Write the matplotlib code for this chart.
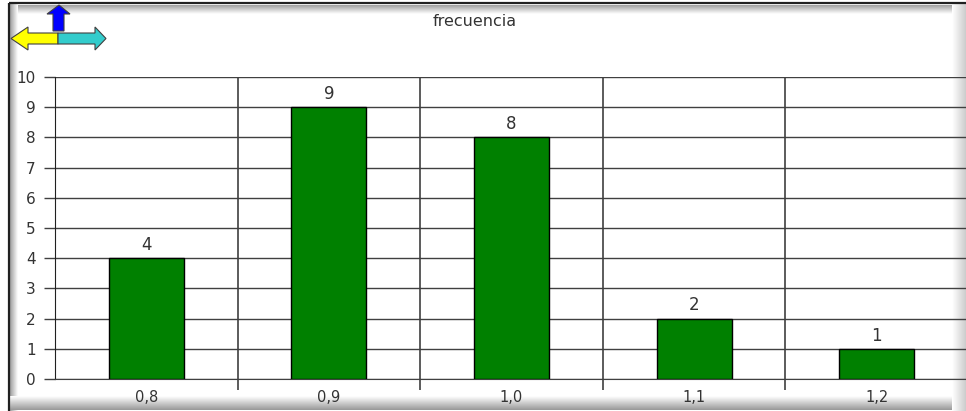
import matplotlib.pyplot as plt
import numpy as np
from matplotlib.patches import Polygon, Rectangle

plt.rcParams['font.family'] = ['DejaVu Sans']

categorias = ['0,8', '0,9', '1,0', '1,1', '1,2']
frecuencia = [4, 9, 8, 2, 1]
yticks = list(range(0, 11))

W, H = 966, 411
fig = plt.figure(figsize=(W / 100, H / 100), dpi=100)

# background layer in pixel coordinates for the frame and the arrow icon
bg = fig.add_axes([0, 0, 1, 1], zorder=-5)
bg.axis('off')

def grad(ax, x0, x1, y0, y1, horizontal, c0, c1):
    n = 32
    g = np.linspace(c0, c1, n)
    img = g[np.newaxis, :] if horizontal else g[:, np.newaxis]
    ax.imshow(img, cmap='gray', vmin=0, vmax=1, extent=(x0, x1, y1, y0),
              aspect='auto', interpolation='bilinear', zorder=1)

# bevelled frame
grad(bg, 10, W, 5, 14, False, 0.62, 1.0)
grad(bg, 10, 18, 5, H, True, 0.62, 1.0)
grad(bg, 10, W, 396, 410, False, 1.0, 0.6)
grad(bg, 952, W, 5, H, True, 1.0, 0.8)
bg.add_patch(Rectangle((9, 3), 960, 410, fill=False, ec='#202020', lw=1.6, zorder=3))
bg.set_xlim(0, W)
bg.set_ylim(H, 0)

# arrow icon
def arrow(pts, fc):
    bg.add_patch(Polygon(pts, closed=True, fc=fc, ec='#404040', lw=0.8, zorder=4))

arrow([(11, 38.5), (28, 27), (28, 33), (58, 33), (58, 44), (28, 44), (28, 50)], '#ffff00')
arrow([(58, 33), (95, 33), (95, 27), (106, 38.5), (95, 50), (95, 44), (58, 44)], '#33cccc')
arrow([(59, 5), (70, 14), (64, 14), (64, 31), (53, 31), (53, 14), (47, 14)], '#0000ff')

fig.text(475 / W, 1 - 21 / H, 'frecuencia', ha='center', va='center',
         fontsize=11.5, color='#333333')

ax = fig.add_axes([55 / W, 1 - 379 / H, 913 / W, 302 / H])
x = np.arange(len(categorias))
bars = ax.bar(x, frecuencia, width=0.41, color='#008000', edgecolor='black',
              linewidth=1.0, zorder=3)
ax.bar_label(bars, labels=[str(v) for v in frecuencia], padding=3,
             fontsize=12, color='#333333')

ax.set_xlim(-0.5, len(categorias) - 0.5)
ax.set_ylim(0, 10)
ax.set_yticks(yticks)
ax.set_yticklabels([str(t) for t in yticks], fontsize=11, color='#333333')
ax.set_xticks(x)
ax.set_xticklabels(categorias, fontsize=10.5, color='#333333')
ax.set_xticks(np.arange(0.5, len(categorias) - 0.5), minor=True)
ax.tick_params(axis='x', which='major', length=0, pad=8)
ax.tick_params(axis='x', which='minor', length=8, width=1.2, color='#404040')
ax.tick_params(axis='y', length=8, width=1.0, color='#404040', pad=6)
ax.grid(axis='y', color='#404040', lw=1.0, zorder=0)
ax.grid(axis='x', which='minor', color='#404040', lw=1.2, zorder=0)
for s in ['top', 'right']:
    ax.spines[s].set_visible(False)
ax.spines['left'].set_color('#202020')
ax.spines['bottom'].set_color('#404040')
ax.set_facecolor('none')

fig.savefig('out.png', dpi=100)
